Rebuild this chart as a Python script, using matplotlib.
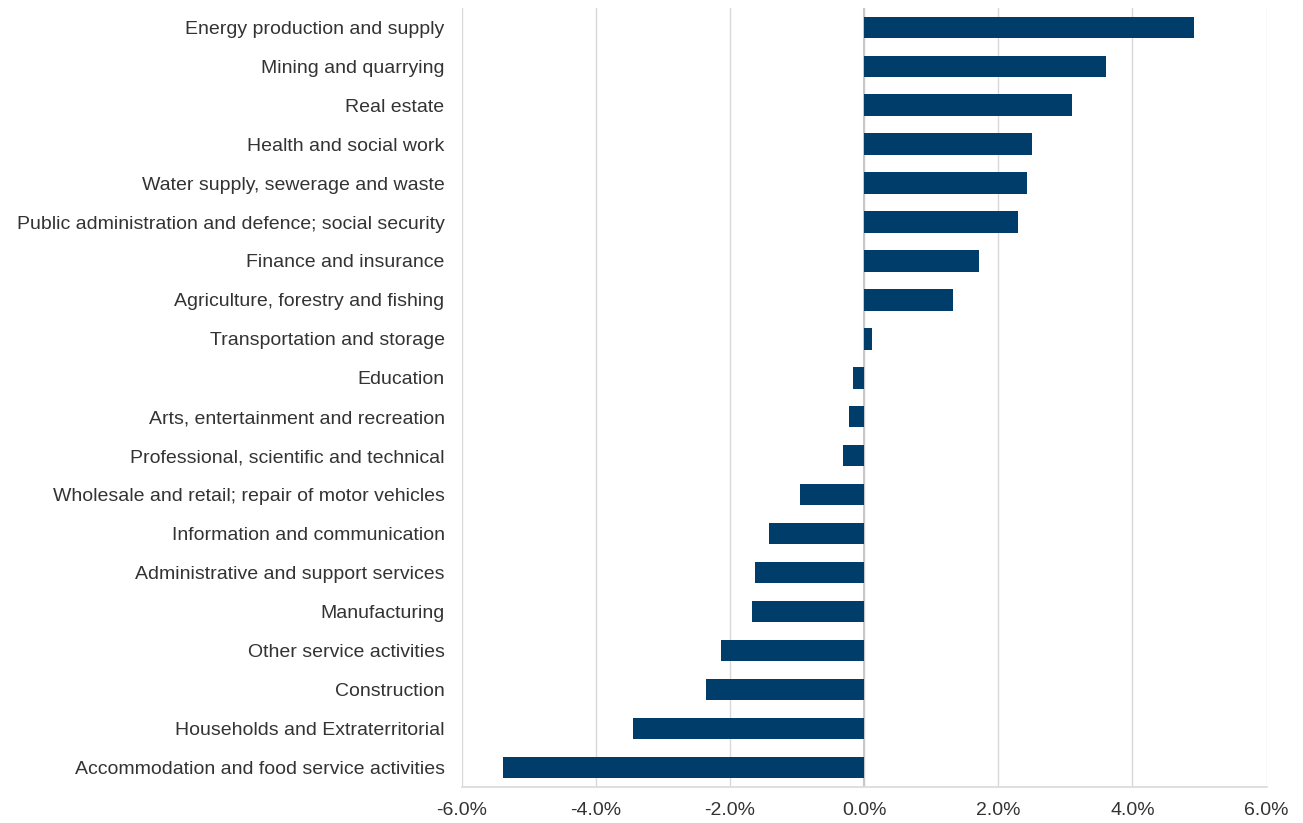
import numpy as np
import matplotlib.pyplot as plt
from matplotlib.ticker import FuncFormatter

plt.rcParams['font.family'] = ['Liberation Sans', 'DejaVu Sans']

# Sectors, top to bottom as shown
sectors = [
    'Energy production and supply',
    'Mining and quarrying',
    'Real estate',
    'Health and social work',
    'Water supply, sewerage and waste',
    'Public administration and defence; social security',
    'Finance and insurance',
    'Agriculture, forestry and fishing',
    'Transportation and storage',
    'Education',
    'Arts, entertainment and recreation',
    'Professional, scientific and technical',
    'Wholesale and retail; repair of motor vehicles',
    'Information and communication',
    'Administrative and support services',
    'Manufacturing',
    'Other service activities',
    'Construction',
    'Households and Extraterritorial',
    'Accommodation and food service activities',
]

# growth in percent
growth = [4.92, 3.60, 3.10, 2.50, 2.43, 2.29, 1.71, 1.32, 0.11,
          -0.17, -0.23, -0.31, -0.96, -1.42, -1.63, -1.67, -2.13,
          -2.36, -3.45, -5.38]

xticks = [-6, -4, -2, 0, 2, 4, 6]

bar_color = '#003d6b'
text_color = '#333333'

fig = plt.figure(figsize=(13.03, 8.23), dpi=100)
ax = fig.add_axes([0.3545, 0.044, 0.6175, 0.9465])

y = np.arange(len(sectors))
ax.barh(y, growth, height=0.55, color=bar_color, zorder=3)

ax.set_ylim(len(sectors) - 0.5, -0.5)
ax.set_xlim(-6, 6)
ax.set_xticks(xticks)
ax.xaxis.set_major_formatter(FuncFormatter(lambda v, p: f'{v:.1f}%'))
ax.set_yticks(y)
ax.set_yticklabels(sectors)

# gridlines and zero line
ax.grid(axis='x', color='#d9d9d9', linewidth=1, zorder=0)
ax.axvline(0, color='#c8c8c8', linewidth=1.5, zorder=2)

for s in ['top', 'right', 'left']:
    ax.spines[s].set_visible(False)
ax.spines['bottom'].set_color('#d9d9d9')
ax.spines['bottom'].set_linewidth(1.2)

ax.tick_params(axis='both', length=0, labelsize=14, colors=text_color)
ax.tick_params(axis='y', pad=12.5)
ax.tick_params(axis='x', pad=11)

fig.savefig('out.png', dpi=100)
